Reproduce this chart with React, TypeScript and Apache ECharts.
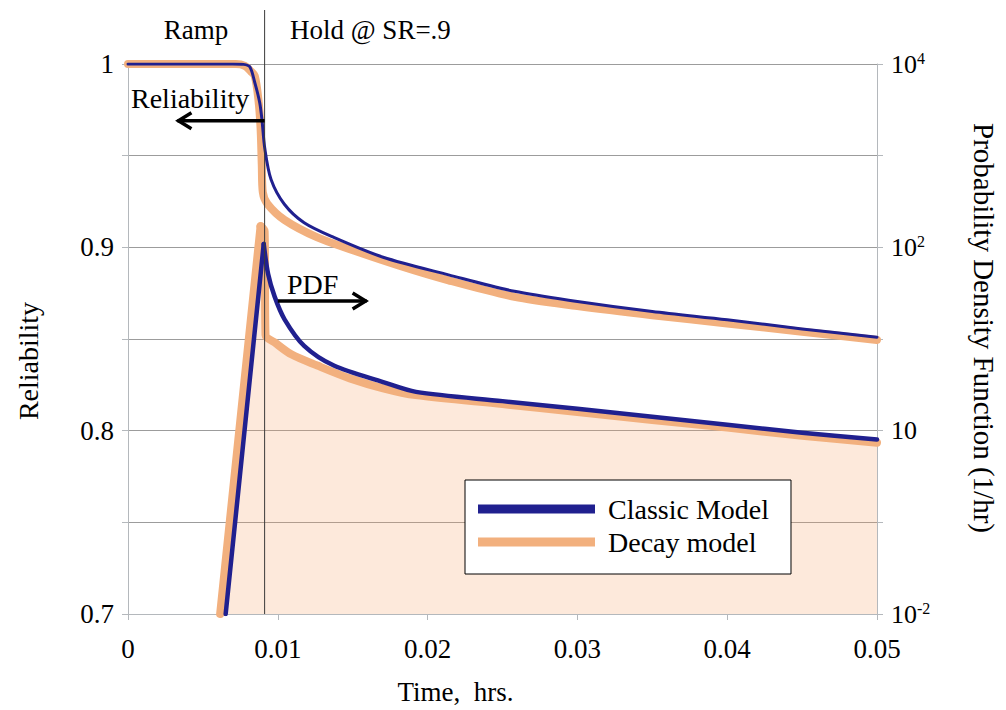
import React, { useEffect, useRef } from 'react';
import * as echarts from 'echarts';

const FONT = '"Liberation Serif", "Times New Roman", serif';
const BLUE = '#20208f';
const ORANGE = '#f2b07e';
const FILL = 'rgba(246,160,100,0.33)';
const GRID_COLOR = '#9c9c9c';
const AXIS_COLOR = '#b4b8bc';

// Tick labels
const X_TICKS = [0, 0.01, 0.02, 0.03, 0.04, 0.05];
const REL_LABELS = ['0.7', '0.8', '0.9', '1'];
const PDF_LABELS: Record<string, string> = { '4': '{b|10}{s|4}', '2': '{b|10}{s|2}', '0': '{b|10}', '-2': '{b|10}{s|-2}' };

// Classic model – reliability (left axis)
const classicRelTime = [0, 0.007, 0.0077, 0.00813, 0.00846, 0.00879, 0.00895, 0.00913, 0.00955, 0.01044, 0.01176, 0.01374, 0.01703, 0.0214, 0.0258, 0.03, 0.035, 0.04, 0.045, 0.05];
const classicRel = [1, 1, 0.9998, 0.9985, 0.99, 0.979, 0.969, 0.954, 0.937, 0.9235, 0.9134, 0.9054, 0.8946, 0.885, 0.876, 0.8705, 0.865, 0.8605, 0.8555, 0.851];

// Decay model – reliability (left axis)
const decayRelTime = [0, 0.0072, 0.0078, 0.0082, 0.00846, 0.0087, 0.00885, 0.00893, 0.009, 0.0093, 0.01044, 0.01264, 0.01481, 0.01811, 0.0214, 0.0258, 0.03, 0.035, 0.04, 0.045, 0.05];
const decayRel = [1, 1, 0.999, 0.996, 0.9935, 0.981, 0.965, 0.945, 0.93, 0.9238, 0.915, 0.9054, 0.899, 0.89, 0.882, 0.873, 0.868, 0.863, 0.8585, 0.854, 0.8495];

// Classic model – PDF (right log axis, 1/hr): ramp, then hold
const classicPdfRampTime = [0.00652, 0.00906];
const classicPdfRamp = [0.01, 108.6];
const classicPdfHoldTime = [0.00906, 0.00935, 0.00979, 0.01045, 0.01176, 0.01374, 0.01703, 0.01923, 0.025, 0.03, 0.035, 0.04, 0.045, 0.05];
const classicPdfHold = [108.6, 51.6, 29.0, 16.4, 8.41, 5.13, 3.39, 2.65, 2.1, 1.73, 1.42, 1.16, 0.95, 0.8];

// Decay model – PDF (right log axis, 1/hr): ramp, then hold
const decayPdfRampTime = [0.00615, 0.00885];
const decayPdfRamp = [0.01, 170];
const decayPdfHoldTime = [0.00885, 0.00912, 0.00918, 0.00978, 0.0109, 0.01264, 0.01481, 0.01703, 0.0192, 0.025, 0.03, 0.035, 0.04, 0.045, 0.05];
const decayPdfHold = [170, 150, 11.0, 9.2, 6.8, 5.13, 3.72, 2.9, 2.44, 1.95, 1.6, 1.31, 1.08, 0.88, 0.74];

// Annotations
const HOLD_START = 0.00912;
const REL_ARROW = { from: HOLD_START, to: 0.0033, value: 0.969 };
const PDF_ARROW = { from: 0.01, to: 0.01593, value: 26 };

const zip = (a: number[], b: number[]) => a.map((t, i) => [t, b[i]]);

export default function App() {
  const ref = useRef<HTMLDivElement>(null);
  useEffect(() => {
    if (!ref.current) return;
    const chart = echarts.init(ref.current, undefined, { renderer: 'svg' });
    const lineCommon = { type: 'line', showSymbol: false, symbol: 'none', animation: false };
    const orangeLine = { color: ORANGE, width: 8, join: 'round', cap: 'round' };
    const blueThick = { color: BLUE, width: 4.5, join: 'round', cap: 'round' };
    const blueThin = { color: BLUE, width: 3, join: 'round', cap: 'round' };
    chart.setOption({
      animation: false,
      backgroundColor: '#fff',
      grid: { left: 128, right: 119, top: 64, bottom: 88, containLabel: false },
      legend: {
        left: 465, top: 480, orient: 'vertical',
        backgroundColor: '#fff', borderColor: '#000', borderWidth: 1, borderRadius: 0,
        padding: [15, 22, 18, 13], itemGap: 5, itemWidth: 117, itemHeight: 9, icon: 'rect',
        selectedMode: false,
        textStyle: { fontFamily: FONT, fontSize: 28, color: '#000', padding: [0, 0, 0, 8] },
        data: [
          { name: 'Classic Model', itemStyle: { color: BLUE } },
          { name: 'Decay model', itemStyle: { color: ORANGE } },
        ],
      },
      xAxis: {
        type: 'value', min: 0, max: 0.05, interval: 0.01,
        name: 'Time,  hrs.', nameLocation: 'middle', nameGap: 64,
        nameTextStyle: { fontFamily: FONT, fontSize: 27, color: '#000', padding: [0, 94, 0, 0] },
        axisLine: { show: true, lineStyle: { color: AXIS_COLOR } },
        axisTick: { show: true, length: 6, lineStyle: { color: AXIS_COLOR } },
        splitLine: { show: false },
        axisLabel: {
          fontFamily: FONT, fontSize: 27, color: '#000', margin: 21,
          formatter: (v: number) => { const i = X_TICKS.findIndex((x) => Math.abs(x - v) < 1e-9); return i < 0 ? '' : String(X_TICKS[i]); },
        },
      },
      yAxis: [
        {
          type: 'value', min: 0.7, max: 1, interval: 0.05, position: 'left',
          name: 'Reliability', nameLocation: 'middle', nameGap: 86, nameRotate: 90,
          nameTextStyle: { fontFamily: FONT, fontSize: 28, color: '#000', padding: [0, 44, 0, 0] },
          axisLine: { show: true, lineStyle: { color: AXIS_COLOR } },
          axisTick: { show: true, length: 6, lineStyle: { color: AXIS_COLOR } },
          splitLine: { show: true, lineStyle: { color: GRID_COLOR, width: 1 } },
          axisLabel: {
            fontFamily: FONT, fontSize: 27, color: '#000', margin: 14,
            formatter: (v: number) => { const s = REL_LABELS.find((l) => Math.abs(parseFloat(l) - v) < 1e-6); return s ?? ''; },
          },
        },
        {
          type: 'log', logBase: 10, min: 0.01, max: 10000, position: 'right',
          name: 'Probability Density Function (1/hr)', nameLocation: 'middle', nameGap: 92, nameRotate: -90,
          nameTextStyle: { fontFamily: FONT, fontSize: 29, color: '#000', padding: [0, 22, 0, 0] },
          axisLine: { show: true, lineStyle: { color: AXIS_COLOR } },
          axisTick: { show: true, length: 6, lineStyle: { color: AXIS_COLOR } },
          splitLine: { show: false },
          axisLabel: {
            fontFamily: FONT, fontSize: 26, color: '#000', margin: 14,
            formatter: (v: number) => PDF_LABELS[String(Math.round(Math.log10(v)))] ?? '',
            rich: {
              b: { fontFamily: FONT, fontSize: 26, color: '#000' },
              s: { fontFamily: FONT, fontSize: 16, color: '#000', padding: [0, 0, 12, 0] },
            },
          },
        },
      ],
      series: [
        {
          ...lineCommon, name: 'Decay model', yAxisIndex: 1, data: zip(decayPdfRampTime, decayPdfRamp), smooth: false,
          lineStyle: orangeLine, itemStyle: { color: ORANGE }, areaStyle: { color: FILL, origin: 'start' }, z: 2,
        },
        {
          ...lineCommon, name: 'Decay model', yAxisIndex: 1, data: zip(decayPdfHoldTime, decayPdfHold), smooth: 0.3,
          lineStyle: orangeLine, itemStyle: { color: ORANGE }, areaStyle: { color: FILL, origin: 'start' }, z: 2,
        },
        {
          ...lineCommon, name: 'Decay model', yAxisIndex: 0, data: zip(decayRelTime, decayRel), smooth: 0.3,
          lineStyle: orangeLine, itemStyle: { color: ORANGE }, z: 3,
        },
        {
          ...lineCommon, name: 'Classic Model', yAxisIndex: 1, data: zip(classicPdfRampTime, classicPdfRamp), smooth: false,
          lineStyle: blueThick, itemStyle: { color: BLUE }, z: 4,
        },
        {
          ...lineCommon, name: 'Classic Model', yAxisIndex: 1, data: zip(classicPdfHoldTime, classicPdfHold), smooth: 0.3,
          lineStyle: blueThick, itemStyle: { color: BLUE }, z: 4,
        },
        {
          ...lineCommon, name: 'Classic Model', yAxisIndex: 0, data: zip(classicRelTime, classicRel), smooth: 0.3,
          lineStyle: blueThin, itemStyle: { color: BLUE }, z: 5,
        },
      ],
    });

    const px = (t: number) => chart.convertToPixel({ xAxisIndex: 0 }, t) as number;
    const pyRel = (r: number) => chart.convertToPixel({ yAxisIndex: 0 }, r) as number;
    const pyPdf = (p: number) => chart.convertToPixel({ yAxisIndex: 1 }, p) as number;

    const xHold = px(HOLD_START);
    const yBottom = pyRel(0.7);
    const relY = pyRel(REL_ARROW.value);
    const relX0 = px(REL_ARROW.from);
    const relX1 = px(REL_ARROW.to);
    const pdfY = pyPdf(PDF_ARROW.value);
    const pdfX0 = px(PDF_ARROW.from);
    const pdfX1 = px(PDF_ARROW.to);
    const textStyle = (text: string, align: string, size: number) => ({ text, fill: '#000', fontFamily: FONT, fontSize: size, textAlign: align, textVerticalAlign: 'middle' });

    chart.setOption({
      graphic: [
        { type: 'line', z: 100, shape: { x1: xHold, y1: 10, x2: xHold, y2: yBottom }, style: { stroke: '#3a3a3a', lineWidth: 1 } },
        { type: 'text', z: 100, x: 196, y: 30, style: textStyle('Ramp', 'center', 27) },
        { type: 'text', z: 100, x: 290, y: 30, style: textStyle('Hold @ SR=.9', 'left', 27) },
        { type: 'text', z: 100, x: 131, y: relY - 22, style: textStyle('Reliability', 'left', 28) },
        { type: 'line', z: 100, shape: { x1: relX0, y1: relY, x2: relX1, y2: relY }, style: { stroke: '#000', lineWidth: 3.5 } },
        { type: 'polyline', z: 100, shape: { points: [[relX1 + 14, relY - 8], [relX1 + 1, relY], [relX1 + 14, relY + 8]] }, style: { stroke: '#000', lineWidth: 3.5, fill: 'none' } },
        { type: 'text', z: 100, x: 287, y: pdfY - 16, style: textStyle('PDF', 'left', 28) },
        { type: 'line', z: 100, shape: { x1: pdfX0, y1: pdfY, x2: pdfX1, y2: pdfY }, style: { stroke: '#000', lineWidth: 3.5 } },
        { type: 'polyline', z: 100, shape: { points: [[pdfX1 - 14, pdfY - 8], [pdfX1 - 1, pdfY], [pdfX1 - 14, pdfY + 8]] }, style: { stroke: '#000', lineWidth: 3.5, fill: 'none' } },
      ],
    });

    return () => chart.dispose();
  }, []);
  return <div ref={ref} style={{ position: 'fixed', left: 0, top: 0, width: 1006, height: 710, background: '#fff' }} />;
}
